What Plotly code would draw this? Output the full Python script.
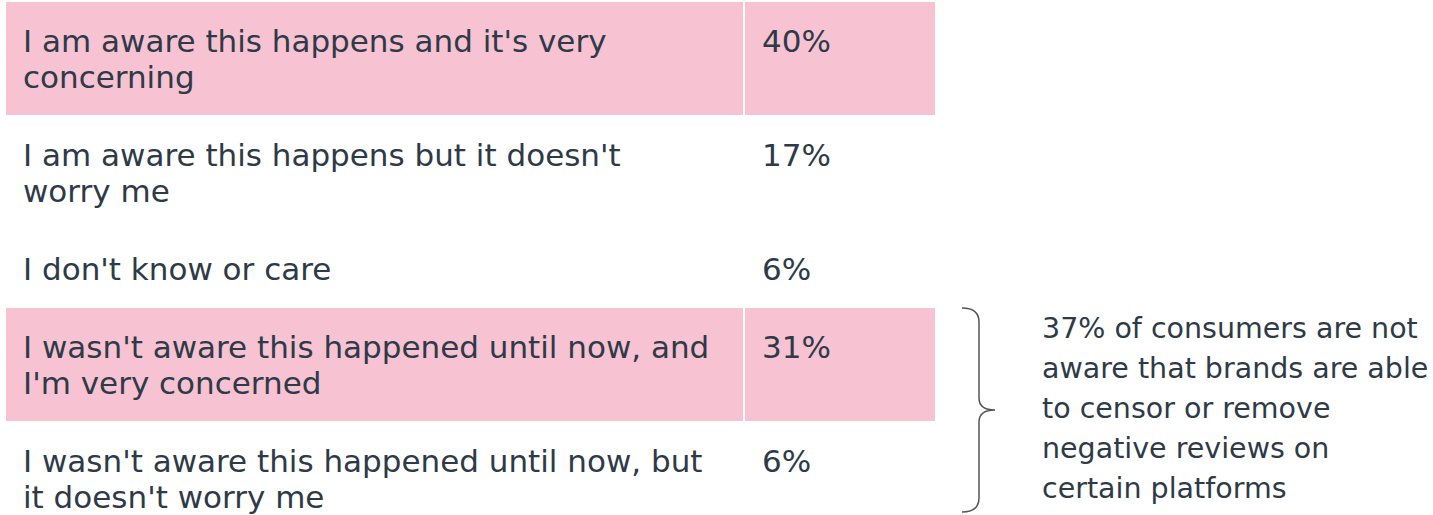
import plotly.graph_objects as go

# ---- data ----
responses = [
    "I am aware this happens and it's very<br>concerning",
    "I am aware this happens but it doesn't<br>worry me",
    "I don't know or care",
    "I wasn't aware this happened until now, and<br>I'm very concerned",
    "I wasn't aware this happened until now, but<br>it doesn't worry me",
]
shares = [40, 17, 6, 31, 6]
highlight = [True, False, False, True, False]
note_lines = [
    "37% of consumers are not",
    "aware that brands are able",
    "to censor or remove",
    "negative reviews on",
    "certain platforms",
]
bracket_rows = [3, 4]  # rows grouped by the brace

# ---- style ----
W, H = 1433, 515
PINK = "#F7C2D2"
TXT = "#2E3A47"
FONT = "'DejaVu Sans', sans-serif"
FS = 31
NFS = 28.5
MID = 0.35  # baseline -> middle of text box, in em
LINE_H = 36
ROW_PAD = 42
TOP = 2
COL0, COL_SPLIT, COL_END = 6, 744, 935
LABEL_X, VALUE_X = 21, 760
NOTE_X, NOTE_BASE, NOTE_STEP = 1040, 338, 40

fig = go.Figure()
shapes, annotations = [], []

row_tops, row_bottoms = [], []
y = TOP
for label, val, hl in zip(responses, shares, highlight):
    lines = label.split("<br>")
    h = ROW_PAD + LINE_H * len(lines)
    row_tops.append(y)
    row_bottoms.append(y + h - 1)
    if hl:
        shapes.append(dict(type="rect", xref="x", yref="y", x0=COL0, x1=COL_SPLIT - 1,
                           y0=y, y1=y + h - 1, fillcolor=PINK, line=dict(width=0), layer="below"))
        shapes.append(dict(type="rect", xref="x", yref="y", x0=COL_SPLIT + 1, x1=COL_END,
                           y0=y, y1=y + h - 1, fillcolor=PINK, line=dict(width=0), layer="below"))
    for i, ln in enumerate(lines):
        base = y + 50 + LINE_H * i
        annotations.append(dict(x=LABEL_X, y=base - MID * FS, xref="x", yref="y", text=ln,
                                showarrow=False, xanchor="left", yanchor="middle",
                                font=dict(family=FONT, size=FS, color=TXT)))
    annotations.append(dict(x=VALUE_X, y=y + 50 - MID * FS, xref="x", yref="y",
                            text=f"{val}%", showarrow=False, xanchor="left", yanchor="middle",
                            font=dict(family=FONT, size=FS, color=TXT)))
    y += h

# brace spanning the grouped rows
bt = row_tops[bracket_rows[0]]
bb = min(row_bottoms[bracket_rows[-1]], 512)
bm = (bt + bb) / 2
x0, x1, xt = 962, 979, 995
path = (f"M {x0},{bt} Q {x1},{bt} {x1},{bt+14} L {x1},{bm-12} "
        f"Q {x1},{bm} {xt},{bm} Q {x1},{bm} {x1},{bm+12} L {x1},{bb-14} "
        f"Q {x1},{bb} {x0},{bb}")
shapes.append(dict(type="path", xref="x", yref="y", path=path,
                   line=dict(color="#555555", width=1.5)))

for i, ln in enumerate(note_lines):
    base = NOTE_BASE + NOTE_STEP * i
    annotations.append(dict(x=NOTE_X, y=base - MID * NFS, xref="x", yref="y", text=ln,
                            showarrow=False, xanchor="left", yanchor="middle",
                            font=dict(family=FONT, size=NFS, color=TXT)))

fig.update_layout(
    width=W, height=H, margin=dict(l=0, r=0, t=0, b=0),
    paper_bgcolor="white", plot_bgcolor="white",
    xaxis=dict(range=[0, W], visible=False, fixedrange=True),
    yaxis=dict(range=[H, 0], visible=False, fixedrange=True),
    shapes=shapes, annotations=annotations, showlegend=False,
)
fig.write_html("out.html", config={"displayModeBar": False},
               post_script="document.body.style.margin='0';document.body.style.overflow='hidden';")
